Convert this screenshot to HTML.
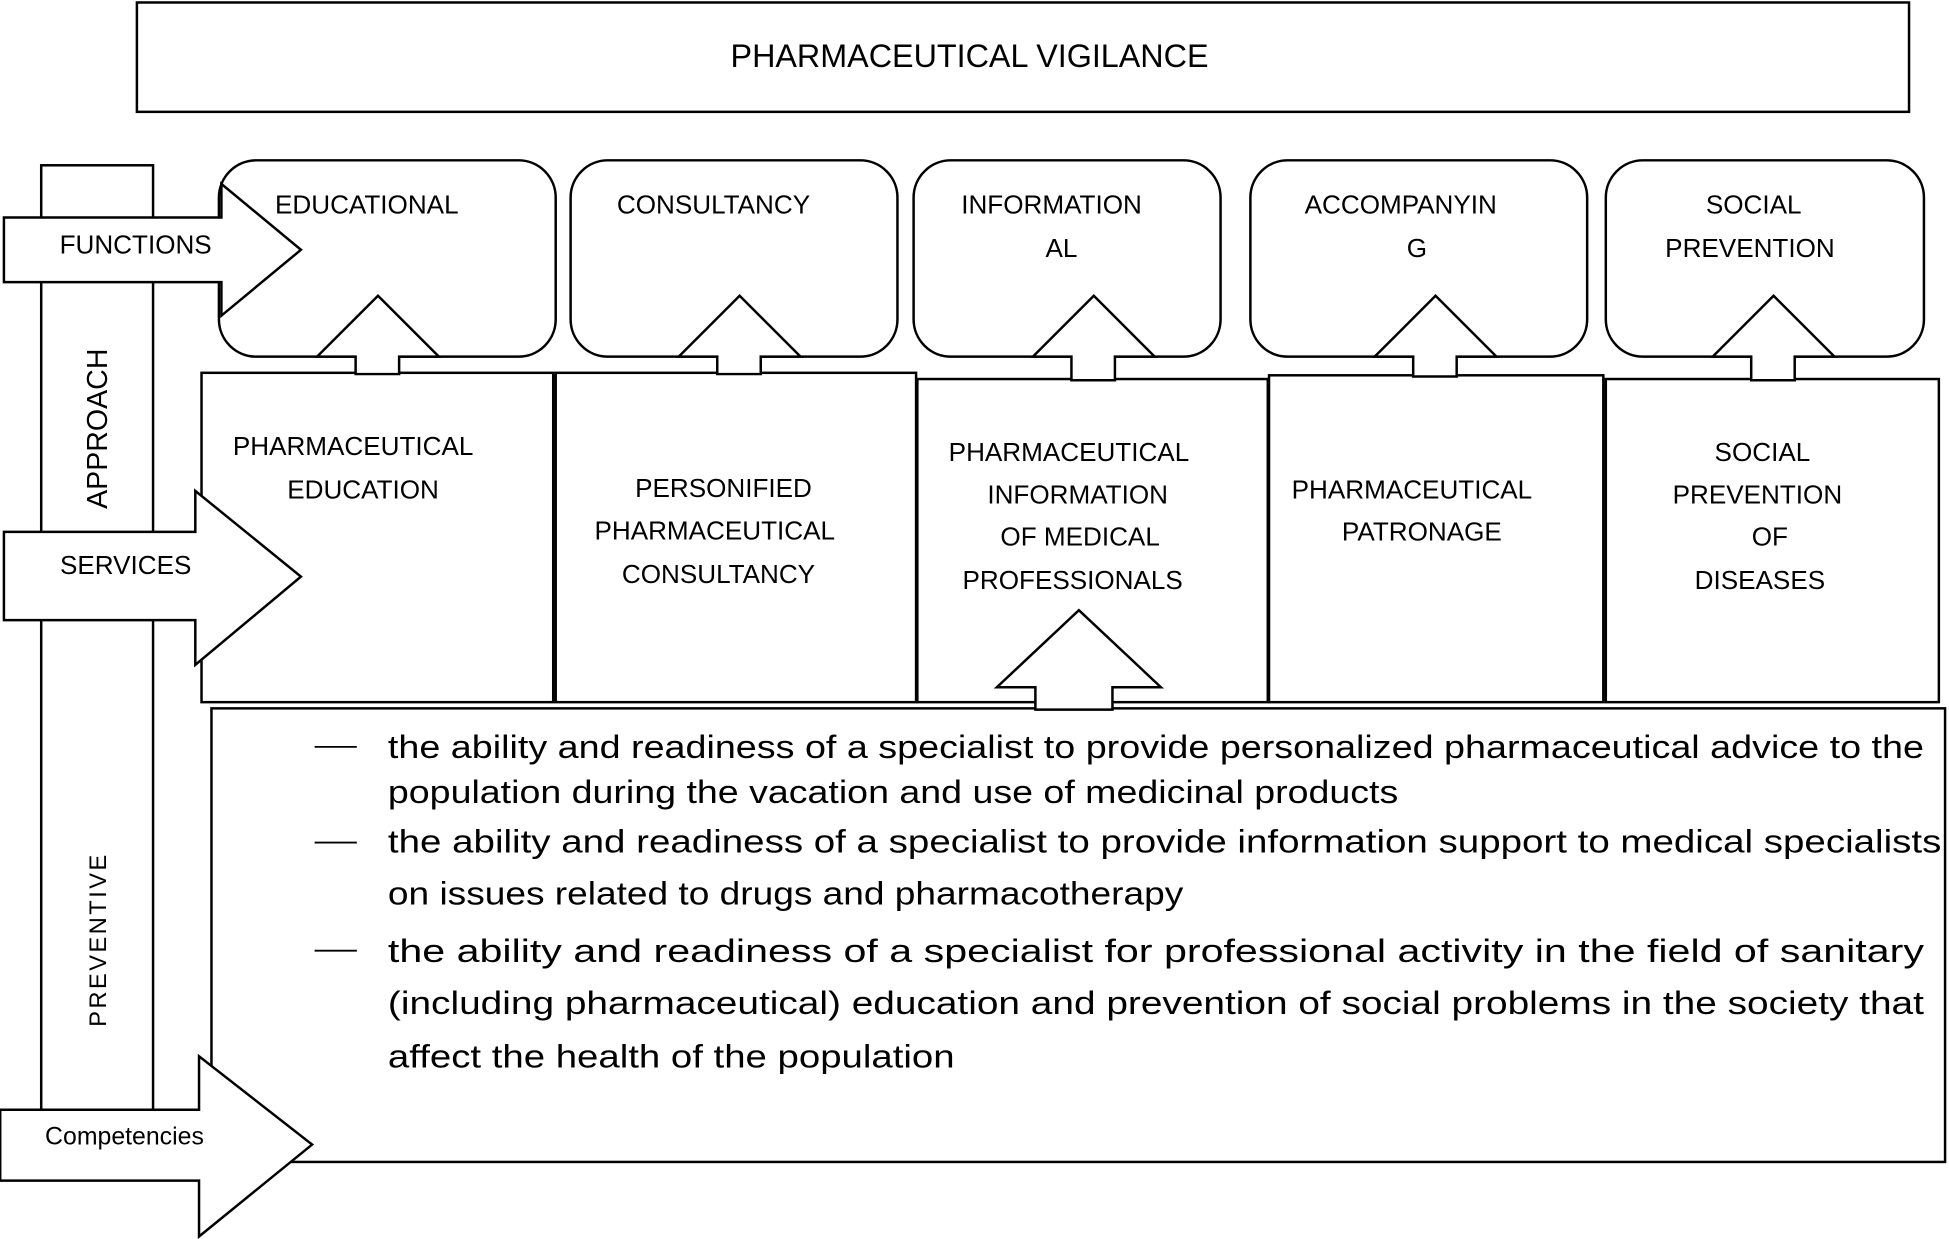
<!DOCTYPE html>
<html><head><meta charset="utf-8"><style>
html,body{margin:0;padding:0;background:#fff;}
svg{display:block;}
text{font-family:"Liberation Sans",sans-serif;fill:#000;}
</style></head><body>
<svg width="1949" height="1239" viewBox="0 0 1568 997" xmlns="http://www.w3.org/2000/svg">
<g fill="#fff" stroke="#000" stroke-width="2">
<rect x="110" y="2" width="1426" height="88"/>
<rect x="33" y="133" width="90" height="760"/>
<rect x="176" y="129" width="271" height="158" rx="30"/>
<rect x="459" y="129" width="263" height="158" rx="30"/>
<rect x="735" y="129" width="247" height="158" rx="30"/>
<rect x="1006" y="129" width="271" height="158" rx="30"/>
<rect x="1292" y="129" width="256" height="158" rx="30"/>
<rect x="162" y="300" width="283" height="265"/>
<rect x="447" y="300" width="290" height="265"/>
<rect x="738" y="305" width="282" height="260"/>
<rect x="1021" y="302" width="269" height="263"/>
<rect x="1292" y="305" width="268" height="260"/>
<polygon points="304,238 353,287 321,287 321,301 286,301 286,287 255,287"/>
<polygon points="595,238 644,287 612,287 612,301 577,301 577,287 546,287"/>
<polygon points="880,238 929,287 897,287 897,306 862,306 862,287 831,287"/>
<polygon points="1155,238 1204,287 1172,287 1172,303 1137,303 1137,287 1106,287"/>
<polygon points="1427,238 1476,287 1444,287 1444,306 1409,306 1409,287 1378,287"/>
<rect x="170" y="570" width="1395" height="365"/>
<polygon points="868,491 934,553 895,553 895,571 833,571 833,553 802,553"/>
<polygon points="3,175 178,175 178,148 242,201 178,254 178,227 3,227"/>
<polygon points="3,428 157,428 157,395 242,464 157,535 157,499 3,499"/>
<polygon points="0,893 160,893 160,850 251,921 160,995 160,950 0,950"/>
</g>
<text x="780" y="54" font-size="26" text-anchor="middle">PHARMACEUTICAL VIGILANCE</text>
<g font-size="21" text-anchor="middle">
<text x="109" y="204">FUNCTIONS</text>
<text x="101" y="462">SERVICES</text>
<text x="100" y="921" font-size="20">Competencies</text>
<text x="295" y="172">EDUCATIONAL</text>
<text x="574" y="172">CONSULTANCY</text>
<text x="846" y="172">INFORMATION</text>
<text x="854" y="207">AL</text>
<text x="1127" y="172">ACCOMPANYIN</text>
<text x="1140" y="207">G</text>
<text x="1411" y="172">SOCIAL</text>
<text x="1408" y="207">PREVENTION</text>
<text x="284" y="366">PHARMACEUTICAL</text>
<text x="292" y="401">EDUCATION</text>
<text x="582" y="400">PERSONIFIED</text>
<text x="575" y="434">PHARMACEUTICAL</text>
<text x="578" y="469">CONSULTANCY</text>
<text x="860" y="371">PHARMACEUTICAL</text>
<text x="867" y="405">INFORMATION</text>
<text x="869" y="439">OF MEDICAL</text>
<text x="863" y="474">PROFESSIONALS</text>
<text x="1136" y="401">PHARMACEUTICAL</text>
<text x="1144" y="435">PATRONAGE</text>
<text x="1418" y="371">SOCIAL</text>
<text x="1414" y="405">PREVENTION</text>
<text x="1424" y="439">OF</text>
<text x="1416" y="474">DISEASES</text>
<text transform="translate(86,345) rotate(-90)" font-size="23">APPROACH</text>
<text transform="translate(85,756) rotate(-90)" font-size="19" letter-spacing="2">PREVENTIVE</text>
</g>
<g font-size="26">
<line x1="253" y1="601" x2="287" y2="601" stroke="#000" stroke-width="1.5"/>
<line x1="253" y1="678" x2="287" y2="678" stroke="#000" stroke-width="1.5"/>
<line x1="253" y1="765" x2="287" y2="765" stroke="#000" stroke-width="1.5"/>
<text x="312" y="610" textLength="1236" lengthAdjust="spacingAndGlyphs">the ability and readiness of a specialist to provide personalized pharmaceutical advice to the</text>
<text x="312" y="646" textLength="813" lengthAdjust="spacingAndGlyphs">population during the vacation and use of medicinal products</text>
<text x="312" y="686" textLength="1250" lengthAdjust="spacingAndGlyphs">the ability and readiness of a specialist to provide information support to medical specialists</text>
<text x="312" y="728" textLength="640" lengthAdjust="spacingAndGlyphs">on issues related to drugs and pharmacotherapy</text>
<text x="312" y="774" textLength="1236" lengthAdjust="spacingAndGlyphs">the ability and readiness of a specialist for professional activity in the field of sanitary</text>
<text x="312" y="816" textLength="1236" lengthAdjust="spacingAndGlyphs">(including pharmaceutical) education and prevention of social problems in the society that</text>
<text x="312" y="859" textLength="456" lengthAdjust="spacingAndGlyphs">affect the health of the population</text>
</g>
</svg>
</body></html>
